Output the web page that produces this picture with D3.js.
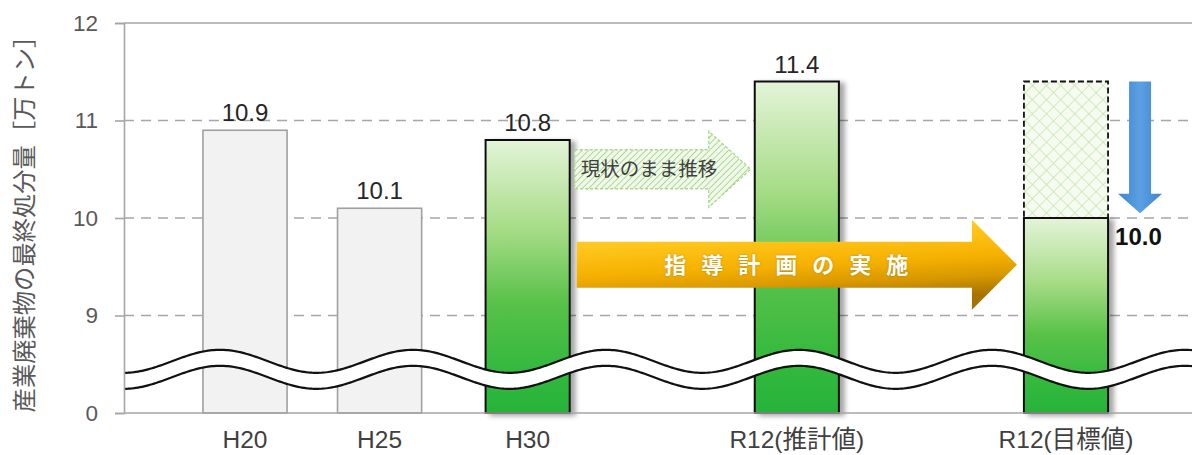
<!DOCTYPE html>
<html><head><meta charset="utf-8">
<script src="https://cdn.jsdelivr.net/npm/d3@7"></script>
<style>
html,body{margin:0;padding:0;background:#fff;}
svg{display:block;}
</style></head>
<body>
<svg id="chart" width="1192" height="455"></svg>
<script>
// ---- data ----
const categories = ["H20", "H25", "H30", "R12(推計値)", "R12(目標値)"];
const values = [10.9, 10.1, 10.8, 11.4, 10.0];
const barKinds = ["past", "past", "actual", "actual", "target"];
const yTickValues = [8, 9, 10, 11, 12];
const yTickLabels = ["0", "9", "10", "11", "12"];
const yTitle = "産業廃棄物の最終処分量［万トン］";
const trendText = "現状のまま推移";
const planText = "指導計画の実施";
// layout slots (category spacing)
const slots = [0, 1, 2.1, 4.1, 6.1];

(function () {
// ---- layout ----
const plot = {left: 124, right: 1192, top: 23, bottom: 413};
const svg = d3.select("#chart");
const y = d3.scaleLinear().domain([8, 12]).range([plot.bottom, plot.top]);
const x = d3.scaleLinear().domain([0, 6.1]).range([245, 1066]);
const unit = x(1) - x(0);
const bw = unit * 0.625;
const cx = i => x(slots[i]);
const xl = i => cx(i) - bw / 2;
const xr = i => cx(i) + bw / 2;

const latin = "'Liberation Sans', Arial, 'Noto Sans CJK JP', sans-serif";
const cjk = "'Noto Sans CJK JP', 'Liberation Sans', sans-serif";

// ---- defs ----
const defs = svg.append("defs");
const gG = defs.append("linearGradient").attr("id", "gGreen").attr("x1", 0).attr("y1", 0).attr("x2", 0).attr("y2", 1);
[[0, "#e4f4d9"], [0.33, "#a6dc86"], [0.6, "#58c148"], [0.85, "#33b83e"], [1, "#26b33a"]].forEach(s =>
  gG.append("stop").attr("offset", s[0]).attr("stop-color", s[1]));
const gO = defs.append("linearGradient").attr("id", "gOrange").attr("x1", 0).attr("y1", 0).attr("x2", 0.25).attr("y2", 1);
[[0, "#ffd75a"], [0.3, "#ffc61c"], [0.6, "#f5b000"], [0.8, "#d89800"], [1, "#a77300"]].forEach(s =>
  gO.append("stop").attr("offset", s[0]).attr("stop-color", s[1]));
const gB = defs.append("linearGradient").attr("id", "gBlue").attr("x1", 0).attr("y1", 0).attr("x2", 1).attr("y2", 0);
[[0, "#3f84cf"], [0.5, "#5aa0e2"], [1, "#3f84cf"]].forEach(s =>
  gB.append("stop").attr("offset", s[0]).attr("stop-color", s[1]));

const pStripe = defs.append("pattern").attr("id", "pStripe").attr("patternUnits", "userSpaceOnUse")
  .attr("width", 4.5).attr("height", 4.5).attr("patternTransform", "rotate(45)");
pStripe.append("rect").attr("width", 4.5).attr("height", 4.5).attr("fill", "#f1f9ec");
pStripe.append("line").attr("x1", 0).attr("y1", 0).attr("x2", 0).attr("y2", 4.5)
  .attr("stroke", "#9cd47a").attr("stroke-width", 1.6);

const pCross = defs.append("pattern").attr("id", "pCross").attr("patternUnits", "userSpaceOnUse")
  .attr("width", 10).attr("height", 10).attr("patternTransform", "rotate(45)");
pCross.append("rect").attr("width", 10).attr("height", 10).attr("fill", "#f6fbf1");
pCross.append("line").attr("x1", 0).attr("y1", 0).attr("x2", 0).attr("y2", 10).attr("stroke", "#bfe2a0").attr("stroke-width", 1.3);
pCross.append("line").attr("x1", 0).attr("y1", 0).attr("x2", 10).attr("y2", 0).attr("stroke", "#bfe2a0").attr("stroke-width", 1.3);

const shadow = defs.append("filter").attr("id", "shadow").attr("x", "-20%").attr("y", "-10%").attr("width", "150%").attr("height", "130%");
shadow.append("feDropShadow").attr("dx", 5).attr("dy", 2).attr("stdDeviation", 2.5)
  .attr("flood-color", "#000").attr("flood-opacity", 0.35);

// ---- gridlines ----
const grid = svg.append("g");
yTickValues.filter(v => v > 8).forEach(v => {
  grid.append("line").attr("x1", plot.left).attr("x2", plot.right).attr("y1", y(v)).attr("y2", y(v))
    .attr("stroke", "#a6a6a6").attr("stroke-width", 1.6)
    .attr("stroke-dasharray", v === 12 ? null : "10,7");
});

// ---- bars ----
const bars = svg.append("g");
values.forEach((v, i) => {
  const kind = barKinds[i];
  if (kind === "past") {
    bars.append("rect").attr("x", xl(i)).attr("y", y(v)).attr("width", bw).attr("height", y(8) - y(v))
      .attr("fill", "#f2f2f2").attr("stroke", "#a0a0a0").attr("stroke-width", 1.6);
  } else {
    bars.append("rect").attr("x", xl(i)).attr("y", y(v)).attr("width", bw).attr("height", y(8) - y(v))
      .attr("fill", "url(#gGreen)").attr("stroke", "#111").attr("stroke-width", 2)
      .attr("filter", "url(#shadow)");
  }
  if (kind === "target") {
    const ref = values[3];
    bars.append("rect").attr("x", xl(i)).attr("y", y(ref)).attr("width", bw).attr("height", y(v) - y(ref))
      .attr("fill", "url(#pCross)").attr("stroke", "#111").attr("stroke-width", 1.8)
      .attr("stroke-dasharray", "6,3");
    bars.append("line").attr("x1", xl(i)).attr("x2", xr(i)).attr("y1", y(v)).attr("y2", y(v))
      .attr("stroke", "#111").attr("stroke-width", 2);
  }
});

// ---- arrows ----
function rightArrow(x0, x1, headLen, yc, bh, hh) {
  const hx = x1 - headLen;
  return `M${x0},${yc - bh}L${hx},${yc - bh}L${hx},${yc - hh}L${x1},${yc}L${hx},${yc + hh}L${hx},${yc + bh}L${x0},${yc + bh}Z`;
}
// trend (hatched) arrow
const tY = y(10.5);
const tX0 = xr(2) + 5, tX1 = xl(3) - 4;
svg.append("path").attr("d", rightArrow(tX0, tX1, 42, tY, 19.5, 38))
  .attr("fill", "url(#pStripe)").attr("stroke", "#a9d98c").attr("stroke-width", 1.3).attr("stroke-dasharray", "3,2");
svg.append("text").attr("x", tX0 + 6).attr("y", tY).attr("dy", "0.36em")
  .attr("font-family", cjk).attr("font-size", 19.5).attr("fill", "#404040").text(trendText);

// plan (orange) arrow
const oY = y(9.52);
const oX0 = xr(2) + 7, oX1 = xl(4) - 7;
svg.append("path").attr("d", rightArrow(oX0, oX1, 45, oY, 23, 45))
  .attr("fill", "url(#gOrange)");
const ls = 15;
svg.append("text").attr("x", (oX0 + oX1 - 45) / 2 + 12 + ls / 2).attr("y", oY).attr("dy", "0.36em")
  .attr("text-anchor", "middle").attr("font-family", cjk).attr("font-weight", "bold")
  .attr("font-size", 22).attr("letter-spacing", ls + "px").attr("fill", "#fff")
  .style("text-shadow", "0 0 2px rgba(120,80,0,0.5)").text(planText);

// blue down arrow
const bX = xr(4) + 32;
const bTop = y(values[3]), bHead = y(10.25), bTip = y(10.05);
svg.append("path")
  .attr("d", `M${bX - 11},${bTop}L${bX + 11},${bTop}L${bX + 11},${bHead}L${bX + 22},${bHead}L${bX},${bTip}L${bX - 22},${bHead}L${bX - 11},${bHead}Z`)
  .attr("fill", "url(#gBlue)");

// ---- axis break wave ----
const waveC = y(8.53), waveA = 11.5, waveP = 193, wavePeak = 220, waveGap = 16;
const xs = d3.range(plot.left, plot.right + 2, 2);
const waveTop = xs.map(px => [px, waveC - waveA * Math.cos(2 * Math.PI * (px - wavePeak) / waveP)]);
const waveBot = waveTop.map(p => [p[0], p[1] + waveGap]);
const line = d3.line();
svg.append("path").attr("d", line(waveTop.concat(waveBot.slice().reverse())) + "Z").attr("fill", "#fff");
svg.append("path").attr("d", line(waveTop)).attr("fill", "none").attr("stroke", "#111").attr("stroke-width", 2.2);
svg.append("path").attr("d", line(waveBot)).attr("fill", "none").attr("stroke", "#111").attr("stroke-width", 2.2);

// ---- axes ----
const yAxis = d3.axisLeft(y).tickValues(yTickValues).tickFormat((d, i) => yTickLabels[i]).tickSize(9).tickPadding(17);
const ya = svg.append("g").attr("transform", `translate(${plot.left},0)`).call(yAxis);
ya.select(".domain").attr("stroke", "#a6a6a6").attr("stroke-width", 1.6);
ya.selectAll(".tick line").attr("stroke", "#a6a6a6").attr("stroke-width", 1.6);
ya.selectAll(".tick text").attr("font-family", latin).attr("font-size", 22.5).attr("fill", "#595959");
svg.append("line").attr("x1", plot.left).attr("x2", plot.right).attr("y1", y(8)).attr("y2", y(8))
  .attr("stroke", "#a6a6a6").attr("stroke-width", 1.6);

// category labels
svg.append("g").selectAll("text").data(categories).join("text")
  .attr("x", (d, i) => cx(i)).attr("y", 448).attr("text-anchor", "middle")
  .attr("font-family", latin).attr("font-size", 24.5).attr("fill", "#404040").text(d => d);

// value labels
values.forEach((v, i) => {
  if (barKinds[i] === "target") {
    svg.append("text").attr("x", xr(i) + 7).attr("y", y(v) + 27)
      .attr("font-family", latin).attr("font-weight", "bold").attr("font-size", 24).attr("fill", "#111")
      .text(d3.format(".1f")(v));
  } else {
    svg.append("text").attr("x", cx(i)).attr("y", y(v) - 9).attr("text-anchor", "middle")
      .attr("font-family", latin).attr("font-size", 24).attr("fill", "#262626")
      .text(d3.format(".1f")(v));
  }
});

// y title
svg.append("text").attr("transform", `translate(24,${(plot.top + plot.bottom) / 2}) rotate(-90)`)
  .attr("text-anchor", "middle").attr("dy", "0.35em")
  .attr("font-family", cjk).attr("font-size", 24.3).attr("fill", "#595959").text(yTitle);
})();
</script>
</body></html>
